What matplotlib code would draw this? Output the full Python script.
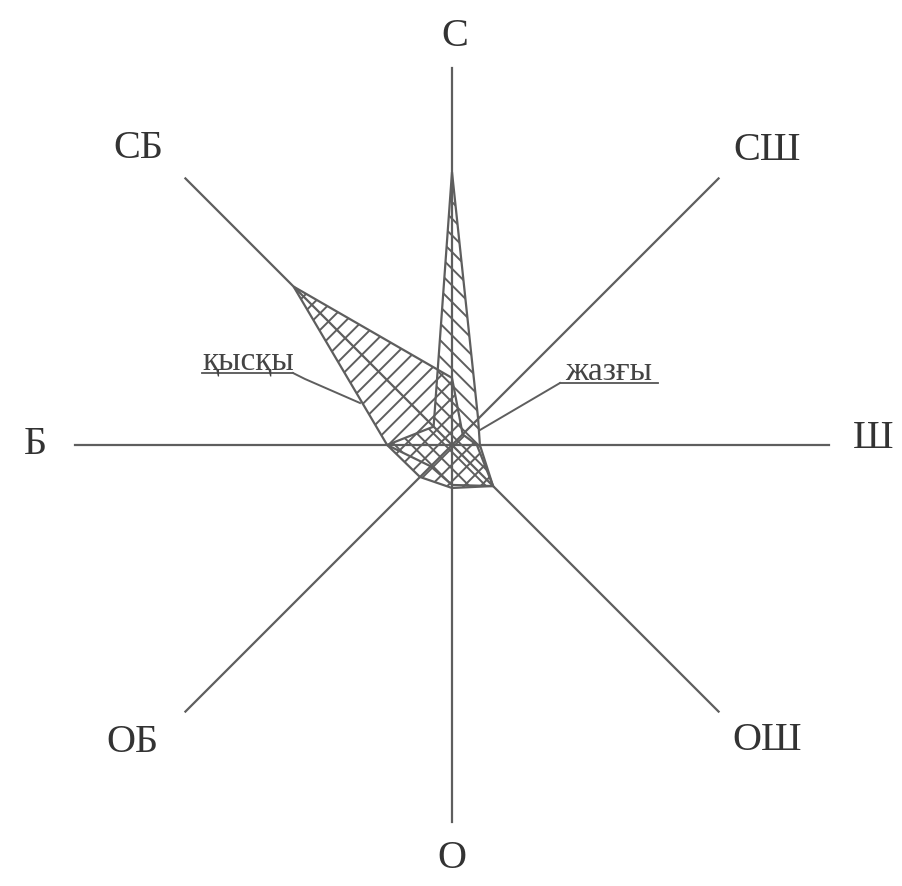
import numpy as np
import matplotlib
matplotlib.use('Agg')
import matplotlib.pyplot as plt

# румбы (по часовой стрелке от севера)
directions = ['С', 'СШ', 'Ш', 'ОШ', 'О', 'ОБ', 'Б', 'СБ']
# повторяемость ветров, в долях длины луча (луч = 100)
winter = [17.8, 4.0, 6.6, 15.4, 11.4, 12.0, 17.2, 59.4]   # қысқы
summer = [72.4, 9.8, 7.4, 15.4, 10.6, 8.0, 17.2, 6.9]     # жазғы

W, H = 902, 886
cx, cy = 452, 445
scale = 3.77   # пикселей на единицу
ray = 100

plt.rcParams['font.family'] = ['Liberation Serif', 'DejaVu Serif']
plt.rcParams['hatch.color'] = '#6a6a6a'
plt.rcParams['hatch.linewidth'] = 1.4
fig = plt.figure(figsize=(W / 100, H / 100), dpi=100)
ax = fig.add_axes([0, 0, 1, 1])
ax.set_xlim(-cx, W - cx)
ax.set_ylim(-(H - cy), cy)
ax.set_aspect('equal')
ax.axis('off')

ang = np.radians(np.arange(8) * 45.0)
line_c = '#5e5e5e'

def xy(vals):
    r = np.asarray(vals, dtype=float) * scale
    return r * np.sin(ang), r * np.cos(ang)

# лучи
for a in ang:
    ax.plot([0, ray * scale * np.sin(a)], [0, ray * scale * np.cos(a)],
            color=line_c, lw=1.6, zorder=1)

x, y = xy(winter)
ax.fill(x, y, facecolor='none', edgecolor=line_c, lw=1.6, hatch='//', zorder=2)
x, y = xy(summer)
ax.fill(x, y, facecolor='none', edgecolor=line_c, lw=1.6, hatch='\\\\', zorder=2)

# подписи румбов
lab_pos = {'С': (3, 408), 'СШ': (315, 295), 'Ш': (421, 6), 'ОШ': (315, -295),
           'О': (0, -413), 'ОБ': (-320, -298), 'Б': (-417, 0), 'СБ': (-314, 297)}
for d in directions:
    px, py = lab_pos[d]
    ax.text(px, py, d, fontsize=29, color='#333333', ha='center', va='center')

# подписи сезонов
ax.text(-204, 75, 'қысқы', fontsize=24, color='#444444', ha='center', va='baseline')
ax.plot([-250, -159], [72, 72], color='#555555', lw=1.3)
ax.plot([-159, -147, -92], [72, 66, 42], color=line_c, lw=1.4)

ax.text(157, 65, 'жазғы', fontsize=24, color='#444444', ha='center', va='baseline')
ax.plot([108, 206], [62, 62], color='#555555', lw=1.3)
ax.plot([108, 28], [62, 15], color=line_c, lw=1.4)

fig.savefig('out.png', dpi=100, facecolor='white')
